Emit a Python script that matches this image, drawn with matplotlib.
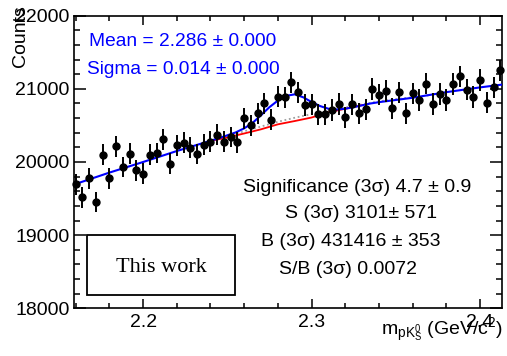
import numpy as np
import matplotlib
matplotlib.use("Agg")
import matplotlib.pyplot as plt
from matplotlib.ticker import MultipleLocator
from matplotlib.patches import Rectangle

plt.rcParams['font.family'] = ['Liberation Sans', 'DejaVu Sans']
plt.rcParams['mathtext.fontset'] = 'custom'
plt.rcParams['mathtext.rm'] = 'Liberation Sans'
plt.rcParams['mathtext.it'] = 'Liberation Sans:italic'

# histogram: bins of 4 MeV starting at 2.16 GeV
bin_start = 2.16
bin_width = 0.004
counts = [19695, 19517, 19777, 19457, 20100, 19777, 20215, 19932, 20113, 19887,
          19840, 20100, 20123, 20310, 19977, 20226, 20262, 20198, 20109, 20237,
          20280, 20373, 20278, 20342, 20267, 20601, 20499, 20666, 20802, 20580,
          20893, 20884, 21090, 20953, 20779, 20789, 20652, 20652, 20711, 20793,
          20611, 20789, 20666, 20720, 20998, 20920, 20971, 20734, 20953, 20666,
          20939, 20848, 21070, 20793, 20930, 20848, 21066, 21172, 20988, 20889,
          21121, 20811, 21021, 21254]

# total fit (signal + background)
fit_x = [2.16, 2.18, 2.20, 2.22, 2.23, 2.24, 2.245, 2.25, 2.255, 2.26, 2.265, 2.27,
         2.275, 2.28, 2.285, 2.29, 2.295, 2.30, 2.305, 2.31, 2.315, 2.32, 2.325,
         2.33, 2.335, 2.34, 2.35, 2.36, 2.38, 2.40, 2.413]
fit_total = [19700, 19855, 20000, 20150, 20220, 20290, 20325, 20365, 20405, 20460, 20535, 20640,
             20750, 20840, 20905, 20925, 20885, 20820, 20765, 20728, 20718, 20728, 20750,
             20775, 20800, 20818, 20848, 20878, 20955, 21020, 21058]

# background component under the peak
bkg_x = [2.24, 2.25, 2.26, 2.27, 2.28, 2.29, 2.30, 2.31, 2.32, 2.33]
bkg_fit = [20288, 20335, 20390, 20447, 20515, 20560, 20608, 20680, 20728, 20777]

# alternative background (dotted)
alt_x = [2.24, 2.25, 2.26, 2.27, 2.28, 2.29, 2.30, 2.31, 2.32, 2.33, 2.34, 2.35, 2.36, 2.37]
alt_bkg = [20295, 20355, 20420, 20485, 20550, 20605, 20655, 20700, 20745, 20790, 20830, 20860, 20885, 20912]

mass = bin_start + bin_width * np.arange(len(counts))
counts = np.array(counts)
errors = np.sqrt(counts)

W, H = 507, 356
fig = plt.figure(figsize=(W / 100, H / 100), dpi=100)
ax = fig.add_axes([74 / W, 1 - 308.3 / H, 428 / W, 292.6 / H])

ax.plot(alt_x, alt_bkg, color='#a0a0a0', lw=1.3, ls=(0, (1, 1.5)), zorder=2)
ax.plot(bkg_x, bkg_fit, color='red', lw=1.3, zorder=3)
ax.plot(fit_x, fit_total, color='blue', lw=1.5, zorder=4)
ax.errorbar(mass, counts, yerr=errors, fmt='o', color='black', ms=5,
            elinewidth=1.4, capsize=0, zorder=5, clip_on=False)

ax.set_xlim(2.159, 2.413)
ax.set_ylim(18000, 22000)

ax.xaxis.set_major_locator(MultipleLocator(0.1))
ax.xaxis.set_minor_locator(MultipleLocator(0.02))
ax.yaxis.set_major_locator(MultipleLocator(1000))
ax.yaxis.set_minor_locator(MultipleLocator(200))
ax.tick_params(which='both', direction='in', top=True, right=True, width=1.1, labelsize=14)
ax.tick_params(axis='x', which='major', length=6.5, pad=4)
ax.tick_params(axis='x', which='minor', length=3.3)
ax.tick_params(axis='y', which='major', length=8.6, pad=3)
ax.tick_params(axis='y', which='minor', length=4.3)
for s in ax.spines.values():
    s.set_linewidth(1.2)

# fit results
fig.text(183 / W, 1 - 42 / H, 'Mean = 2.286 ± 0.000', color='blue', fontsize=13.8,
         ha='center', va='center')
fig.text(183 / W, 1 - 69 / H, 'Sigma = 0.014 ± 0.000', color='blue', fontsize=13.8,
         ha='center', va='center')

stats = [(357, 187, 'Significance (3σ) 4.7 ± 0.9'),
         (361, 214, 'S (3σ) 3101± 571'),
         (351, 241, 'B (3σ) 431416 ± 353'),
         (348, 270, 'S/B (3σ) 0.0072')]
for px, py, txt in stats:
    fig.text(px / W, 1 - py / H, txt, fontsize=14, ha='center', va='center')

# label box
fig.patches.append(Rectangle((87 / W, 1 - 295 / H), 148 / W, 60 / H, transform=fig.transFigure,
                             fill=False, edgecolor='black', lw=1.3))
fig.text(161 / W, 1 - 268 / H, 'This work', family=['Liberation Serif'], fontsize=16,
         ha='center', va='center')

fig.text(20 / W, 1 - 5 / H, 'Counts', rotation=90, fontsize=14, ha='center', va='top')
fig.text(503 / W, 1 - 335 / H, r'm$_{\mathregular{pK^0_S}}$ (GeV/c$^{2}$)', fontsize=14,
         ha='right', va='baseline')

fig.savefig('out.png', dpi=100)
